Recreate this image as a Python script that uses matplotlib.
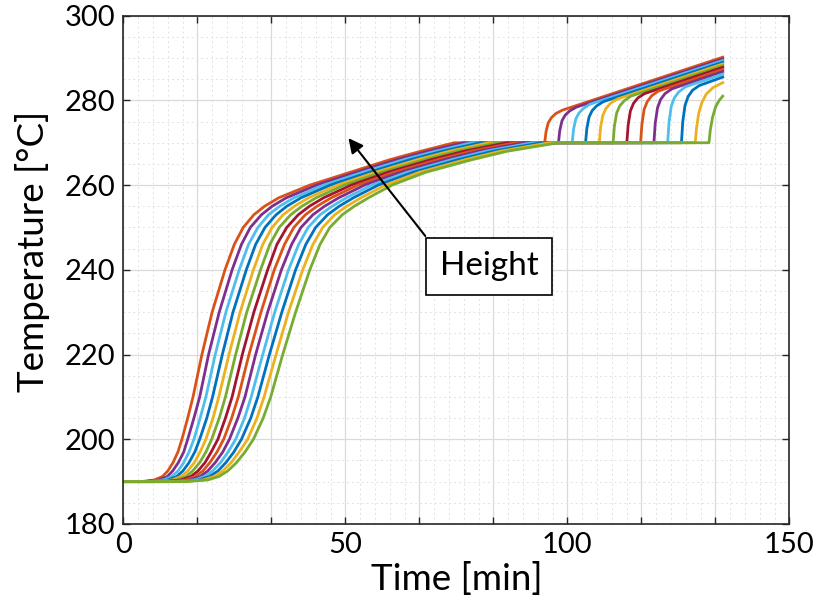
import numpy as np
import matplotlib
matplotlib.use('Agg')
import matplotlib.pyplot as plt
from matplotlib.ticker import FixedLocator, MultipleLocator

plt.rcParams['font.family'] = ['Lato', 'DejaVu Sans']

# temperature levels of the first heating ramp, 190 -> 270 degC
RISE_LEVELS = [190, 190.4, 191.2, 192.5, 194.5, 197, 200, 205, 210, 220, 230,
               240, 246, 250, 253, 255, 257, 260, 263, 266, 268, 270]

# time [min] at which each curve reaches each level (first value: lift-off)
RISE_TIMES = [
    [4.0, 7.0, 8.8, 10.0, 11.2, 12.3, 13.2, 14.5, 15.7, 17.7, 20.0, 22.9, 25.0, 27.0, 29.4, 31.8, 35.0, 42.0, 51.0, 60.0, 67.0, 74.5],
    [4.8, 8.0, 9.9, 11.1, 12.4, 13.6, 14.5, 15.9, 17.2, 19.2, 21.6, 24.5, 26.6, 28.6, 31.1, 33.5, 36.7, 43.5, 52.4, 61.5, 68.6, 76.5],
    [5.7, 9.0, 10.9, 12.3, 13.6, 14.8, 15.9, 17.3, 18.6, 20.7, 23.1, 26.1, 28.2, 30.3, 32.7, 35.2, 38.4, 45.1, 53.8, 63.1, 70.3, 78.4],
    [6.5, 10.0, 12.0, 13.4, 14.8, 16.1, 17.2, 18.8, 20.1, 22.3, 24.7, 27.7, 29.8, 31.9, 34.4, 36.8, 40.0, 46.6, 55.3, 64.6, 71.9, 80.4],
    [7.3, 11.0, 13.0, 14.5, 16.0, 17.3, 18.6, 20.2, 21.5, 23.8, 26.3, 29.3, 31.4, 33.5, 36.0, 38.5, 41.7, 48.2, 56.7, 66.2, 73.5, 82.3],
    [8.2, 12.0, 14.1, 15.6, 17.2, 18.6, 19.9, 21.6, 23.0, 25.3, 27.8, 30.9, 33.0, 35.1, 37.7, 40.2, 43.4, 49.7, 58.1, 67.7, 75.1, 84.3],
    [9.0, 13.0, 15.2, 16.8, 18.4, 19.8, 21.3, 23.0, 24.5, 26.8, 29.4, 32.5, 34.6, 36.8, 39.4, 41.9, 45.1, 51.3, 59.5, 69.3, 76.8, 86.3],
    [9.8, 14.0, 16.2, 17.9, 19.5, 21.1, 22.6, 24.4, 25.9, 28.3, 31.0, 34.0, 36.3, 38.4, 41.0, 43.6, 46.8, 52.8, 60.9, 70.8, 78.4, 88.2],
    [10.7, 15.0, 17.3, 19.0, 20.7, 22.4, 23.9, 25.8, 27.4, 29.8, 32.5, 35.6, 37.9, 40.0, 42.7, 45.3, 48.5, 54.3, 62.3, 72.3, 80.0, 90.2],
    [11.5, 16.0, 18.3, 20.1, 21.9, 23.6, 25.3, 27.3, 28.8, 31.4, 34.1, 37.2, 39.5, 41.6, 44.3, 47.0, 50.2, 55.9, 63.8, 73.9, 81.6, 92.1],
    [12.3, 17.0, 19.4, 21.3, 23.1, 24.9, 26.6, 28.7, 30.3, 32.9, 35.7, 38.8, 41.1, 43.3, 46.0, 48.6, 51.8, 57.4, 65.2, 75.4, 83.3, 94.1],
    [13.2, 18.0, 20.4, 22.4, 24.3, 26.1, 28.0, 30.1, 31.7, 34.4, 37.2, 40.4, 42.7, 44.9, 47.6, 50.3, 53.5, 59.0, 66.6, 77.0, 84.9, 96.0],
    [14.0, 19.0, 21.5, 23.5, 25.5, 27.4, 29.3, 31.5, 33.2, 35.9, 38.8, 42.0, 44.3, 46.5, 49.3, 52.0, 55.2, 60.5, 68.0, 78.5, 86.5, 98.0],
]

# second ramp: leaves the 270 degC hold
HEAT_TIMES = [
    [94.9, 95.2, 95.7, 96.4, 97.4, 98.9, 135.0],
    [98.0, 98.3, 98.8, 99.5, 100.5, 102.0, 135.0],
    [101.1, 101.4, 101.9, 102.6, 103.6, 105.1, 135.0],
    [104.1, 104.4, 104.9, 105.6, 106.6, 108.1, 135.0],
    [107.2, 107.5, 108.0, 108.7, 109.7, 111.2, 135.0],
    [110.3, 110.6, 111.1, 111.8, 112.8, 114.3, 135.0],
    [113.4, 113.7, 114.2, 114.9, 115.9, 117.4, 135.0],
    [116.5, 116.8, 117.3, 118.0, 119.0, 120.5, 135.0],
    [119.5, 119.8, 120.3, 121.0, 122.0, 123.5, 135.0],
    [122.6, 122.9, 123.4, 124.1, 125.1, 126.6, 135.0],
    [125.7, 126.0, 126.5, 127.2, 128.2, 129.7, 135.0],
    [128.8, 129.1, 129.6, 130.3, 131.3, 132.8, 135.0],
    [131.9, 132.2, 132.7, 133.4, 134.2, 135.0],
]
HEAT_TEMPS = [
    [270, 272.6, 274.7, 275.9, 276.9, 277.7, 290.2],
    [270, 272.9, 275.2, 276.5, 277.5, 278.4, 289.8],
    [270, 273.2, 275.6, 277.0, 278.1, 279.1, 289.4],
    [270, 273.4, 276.1, 277.6, 278.7, 279.7, 289.0],
    [270, 273.7, 276.5, 278.1, 279.3, 280.3, 288.6],
    [270, 273.9, 277.0, 278.7, 279.9, 281.0, 288.2],
    [270, 274.2, 277.5, 279.3, 280.6, 281.6, 287.8],
    [270, 274.4, 277.9, 279.7, 281.1, 282.2, 287.3],
    [270, 274.6, 278.2, 280.2, 281.6, 282.7, 286.8],
    [270, 274.8, 278.6, 280.6, 282.0, 283.2, 286.2],
    [270, 275.0, 278.8, 280.9, 282.4, 283.5, 285.5],
    [270, 273.5, 277.0, 279.5, 281.5, 283.0, 284.2],
    [270, 273.0, 276.0, 278.5, 280.0, 281.0],
]

COLORS = ['#d95319', '#7e2f8e', '#4dbeee', '#0072bd', '#edb120', '#77ac30',
          '#a2142f', '#d95319', '#7e2f8e', '#4dbeee', '#0072bd', '#edb120',
          '#77ac30']

XTICKS = np.linspace(0, 150, 10)
XTICK_LABELS = ['0', '', '', '50', '', '', '100', '', '', '150']
YTICKS = [180, 200, 220, 240, 260, 280, 300]

fig = plt.figure(figsize=(8.14, 6.10), dpi=100)
ax = fig.add_axes([0.1515, 0.1410, 0.8182, 0.8333])

for rise_t, heat_t, heat_T, c in zip(RISE_TIMES, HEAT_TIMES, HEAT_TEMPS, COLORS):
    t = [0.0] + rise_t + heat_t
    T = [190] + RISE_LEVELS + heat_T
    ax.plot(t, T, color=c, lw=2.0, solid_joinstyle='round')

ax.set_xlim(0, 150)
ax.set_ylim(180, 300)
ax.xaxis.set_major_locator(FixedLocator(XTICKS))
ax.set_xticklabels(XTICK_LABELS)
ax.xaxis.set_minor_locator(MultipleLocator(50 / 15))
ax.set_yticks(YTICKS)
ax.yaxis.set_minor_locator(MultipleLocator(5))

ax.grid(which='major', color='#dadada', lw=0.9, ls='-')
ax.grid(which='minor', color='#e2e2e2', lw=0.7, ls=(0, (2, 3)))
ax.set_axisbelow(True)

ax.tick_params(which='major', direction='in', length=5, width=1.0,
               top=True, right=True, labelsize=21, pad=6, colors='#262626',
               labelcolor='black')
ax.tick_params(which='minor', length=0)
for s in ax.spines.values():
    s.set_color('#262626')
    s.set_linewidth(1.2)

ax.set_xlabel('Time [min]', fontsize=26.5)
ax.set_ylabel('Temperature [°C]', fontsize=26.5)
ax.xaxis.set_label_coords(0.5, -0.075)
ax.yaxis.set_label_coords(-0.11, 0.537)

ax.text(82.4, 240.8, 'Height', fontsize=24, ha='center', va='center',
        bbox=dict(boxstyle='square,pad=0.4', fc='white', ec='black', lw=1.2))
ax.annotate('', xy=(50.7, 271.1), xytext=(68.0, 248.0),
            arrowprops=dict(arrowstyle='-|>', color='black', lw=1.5,
                            mutation_scale=22, shrinkA=0, shrinkB=0))

fig.savefig('out.png', dpi=100)
